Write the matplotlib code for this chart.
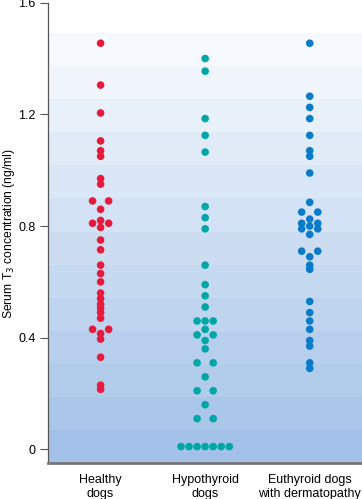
import matplotlib.pyplot as plt
import numpy as np
from collections import Counter

plt.rcParams['font.family'] = ['Liberation Sans', 'DejaVu Sans']

groups = ["Healthy\ndogs", "Hypothyroid\ndogs", "Euthyroid dogs\nwith dermatopathy"]
colors = ["#e61a3c", "#00a6a6", "#0a7bc8"]

healthy = [1.455, 1.305, 1.205, 1.105, 1.07, 1.05, 0.97, 0.95, 0.89, 0.89,
           0.86, 0.82, 0.81, 0.81, 0.795, 0.75, 0.715, 0.66, 0.63, 0.60,
           0.56, 0.54, 0.52, 0.505, 0.49, 0.47, 0.43, 0.43, 0.415, 0.395,
           0.33, 0.23, 0.215]
hypothyroid = [1.40, 1.355, 1.185, 1.125, 1.065, 0.87, 0.83, 0.79, 0.66,
               0.59, 0.55, 0.51, 0.46, 0.46, 0.46, 0.43, 0.41, 0.41, 0.39,
               0.36, 0.31, 0.31, 0.26, 0.21, 0.21, 0.16, 0.11, 0.11,
               0.01, 0.01, 0.01, 0.01, 0.01, 0.01, 0.01]
euthyroid = [1.455, 1.265, 1.225, 1.185, 1.125, 1.07, 1.05, 0.99, 0.885,
             0.85, 0.85, 0.825, 0.81, 0.81, 0.80, 0.79, 0.79, 0.77, 0.71,
             0.71, 0.69, 0.66, 0.645, 0.53, 0.49, 0.46, 0.43, 0.39, 0.37,
             0.31, 0.29]
yticks = [0, 0.4, 0.8, 1.2, 1.6]

fig = plt.figure(figsize=(3.62, 4.99), dpi=100)
ax = fig.add_axes([0.1335, 0.0715, 0.8665, 0.923])

# stepped blue gradient background (dark at bottom, near white at top)
nband = 13
shades = np.linspace(1, 0, nband).reshape(-1, 1)
top_c = np.array([0.965, 0.98, 0.995])
bot_c = np.array([0.64, 0.76, 0.91])
img = top_c + (bot_c - top_c) * shades[..., None]
ax.imshow(img, extent=(-0.5, 2.5, -0.05, 1.49), origin='lower',
          aspect='auto', interpolation='nearest', zorder=0)

step = 0.077
for i, (vals, c) in enumerate(zip([healthy, hypothyroid, euthyroid], colors)):
    counts = Counter(vals)
    for v, n in counts.items():
        if n % 2:
            offs = np.arange(n) - (n - 1) / 2
        else:
            k = np.arange(1, n // 2 + 1)
            offs = np.concatenate([-k, k])
        ax.scatter(i + offs * step, [v] * n, s=30, color=c,
                   edgecolors='none', zorder=3)

ax.set_xlim(-0.5, 2.5)
ax.set_ylim(-0.05, 1.6)
ax.set_yticks(yticks)
ax.set_yticklabels(["0", "0.4", "0.8", "1.2", "1.6"])
ax.set_xticks(range(3))
ax.set_xticklabels(groups)
ax.tick_params(axis='x', length=0, pad=8, labelsize=9)
ax.tick_params(axis='y', length=6, width=0.8, color='#555555',
               labelsize=9, pad=3)
ax.set_ylabel("Serum T$_3$ concentration (ng/ml)", fontsize=8.7, labelpad=1)

for s in ['top', 'right']:
    ax.spines[s].set_visible(False)
ax.spines['left'].set_color('#555555')
ax.spines['left'].set_linewidth(0.9)
ax.spines['bottom'].set_color('#777777')
ax.spines['bottom'].set_linewidth(2)

fig.savefig("out.png", dpi=100)
